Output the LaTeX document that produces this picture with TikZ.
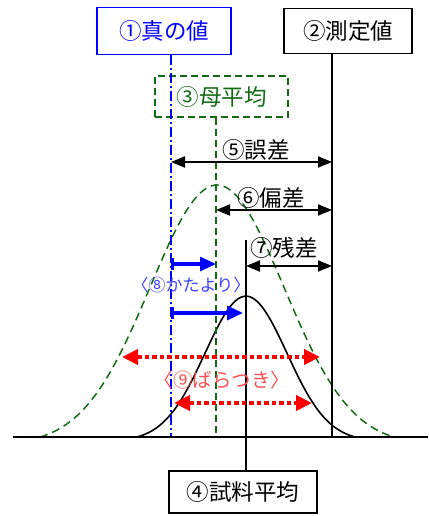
\documentclass[tikz,border=0pt]{standalone}
\usepackage{fontspec}
\setmainfont{Noto Sans CJK JP}
\usetikzlibrary{arrows.meta, positioning}
\definecolor{trueBlue}{HTML}{0000FF}
\definecolor{biasBlue}{HTML}{4040FF}
\definecolor{popGreen}{HTML}{126B12}
\definecolor{spreadRed}{HTML}{FF0000}
\definecolor{spreadText}{HTML}{FF5050}

\begin{document}
\begin{tikzpicture}[x=1pt, y=-1pt,
      box/.style={rectangle, draw, line width=1.5pt, inner sep=0pt,
                  font=\fontsize{22.5}{26}\selectfont},
      label/.style={font=\fontsize{22.5}{26}\selectfont, inner sep=0pt},
      vline/.style={line width=1.4pt},
      dimarrow/.style={{Triangle[length=14pt,width=11pt]}-{Triangle[length=14pt,width=11pt]},
                       line width=2pt},
      biasarrow/.style={{Bar[width=12pt]}-{Triangle[length=16pt,width=14pt]},
                        line width=3.2pt, trueBlue},
      spreadarrow/.style={{Triangle[length=16pt,width=15pt]}-{Triangle[length=16pt,width=15pt]},
                          line width=4.2pt, spreadRed, dash pattern=on 4.5pt off 3pt},
      greendash/.style={popGreen, line width=1.5pt, dash pattern=on 7pt off 4pt}
    ]
    \useasboundingbox (0,0) rectangle (428,516);

    % boxes
    \node[box, draw=trueBlue, text=trueBlue, minimum width=134pt, minimum height=47pt]
      (true) at (164,31) {①真の値};
    \node[box, minimum width=128pt, minimum height=45pt] (meas) at (348,31) {②測定値};
    \node[box, greendash, text=popGreen, minimum width=133pt, minimum height=41pt]
      (pop) at (221.5,96.5) {③母平均};
    \node[box, minimum width=148pt, minimum height=42pt] (samp) at (243,492) {④試料平均};

    % foot of each vertical line on the axis
    \coordinate (tv) at (171,437);
    \coordinate (pv) at (216,437);
    \coordinate (sv) at (246,437);
    \coordinate (mv) at (332,437);
    \coordinate (axL) at (13,437);
    \coordinate (axR) at (428,437);
    \coordinate (stop) at (246,240);

    % distributions
    \draw[greendash, dash pattern=on 8pt off 5pt, domain=40:392, samples=120]
      plot (\x, {437 - 260*(exp(-0.5*((\x-217)/67)^2) - 0.031)});
    \draw[line width=1.6pt, domain=137:354, samples=120]
      plot (\x, {437 - 145*(exp(-0.5*((\x-246)/41)^2) - 0.029)});

    % vertical lines and axis
    \draw[trueBlue, line width=1.5pt, dash pattern=on 10pt off 3pt on 2pt off 3pt]
      (true.south -| tv) -- (tv);
    \draw[greendash] (pop.south -| pv) -- (pv);
    \draw[vline] (meas.south -| mv) -- (mv);
    \draw[vline] (stop) -- (samp.north -| stop);
    \draw[line width=1.6pt] (axL) -- (axR);

    % differences
    \foreach \r/\y in {r5/162, r6/210, r7/266, b1/264, b2/313, s1/357, s2/403}
      \coordinate (\r) at (0,\y);
    \draw[dimarrow] (tv |- r5) -- (mv |- r5);
    \draw[dimarrow] (pv |- r6) -- (mv |- r6);
    \draw[dimarrow] (sv |- r7) -- (mv |- r7);
    \node[label] (e5) at (256,150) {⑤誤差};
    \node[label] (e6) at (271,198) {⑥偏差};
    \node[label] (e7) at (284,248) {⑦残差};

    % bias
    \coordinate (b2end) at (243,313);
    \draw[biasarrow] (tv |- b1) -- (pv |- b1);
    \draw[biasarrow] (tv |- b2) -- (b2end);
    \node[label, text=biasBlue, font=\fontsize{17}{20}\selectfont] (bias) at (191,285) {〈⑧かたより〉};

    % spread
    \coordinate (s1a) at (122,357); \coordinate (s1b) at (320,357);
    \coordinate (s2a) at (174,403); \coordinate (s2b) at (312,403);
    \draw[spreadarrow] (s1a) -- (s1b);
    \draw[spreadarrow] (s2a) -- (s2b);
    \node[label, text=spreadText, font=\fontsize{19.5}{22}\selectfont] (spread) at (222,380) {〈⑨ばらつき〉};
  \end{tikzpicture}
\end{document}
